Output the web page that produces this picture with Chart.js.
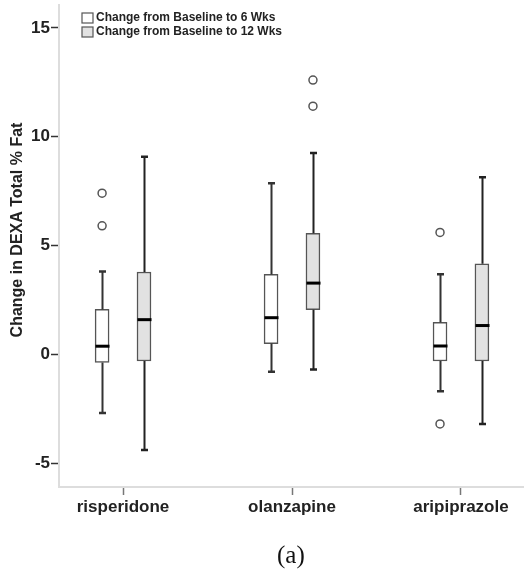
<!DOCTYPE html>
<html>
<head>
<meta charset="utf-8">
<script src="https://cdn.jsdelivr.net/npm/chart.js@4/dist/chart.umd.min.js"></script>
<style>
  body { margin: 0; background: #fff; }
  #wrap { position: relative; width: 524px; height: 573px; }
  #caption { position: absolute; left: 277px; top: 541px; font: 25px "Liberation Serif", serif; color: #111; }
</style>
</head>
<body>
<div id="wrap">
  <canvas id="myChart" width="524" height="573"></canvas>
  <div id="caption">(a)</div>
</div>
<script>
// Categories and tick labels
const categories = ['risperidone', 'olanzapine', 'aripiprazole'];
const yTicks = [-5, 0, 5, 10, 15];
const seriesLabels = ['Change from Baseline to 6 Wks', 'Change from Baseline to 12 Wks'];

// Box plot summaries, change from baseline to 6 weeks
const wk6Min = [-2.7, -0.8, -1.7];
const wk6Q1 = [-0.38, 0.49, -0.31];
const wk6Median = [0.37, 1.68, 0.38];
const wk6Q3 = [2.06, 3.67, 1.47];
const wk6Max = [3.8, 7.86, 3.68];
const wk6Outliers = [[7.4, 5.9], [], [5.6, -3.2]];

// Box plot summaries, change from baseline to 12 weeks
const wk12Min = [-4.4, -0.7, -3.2];
const wk12Q1 = [-0.31, 2.05, -0.31];
const wk12Median = [1.59, 3.27, 1.32];
const wk12Q3 = [3.78, 5.56, 4.16];
const wk12Max = [9.08, 9.25, 8.13];
const wk12Outliers = [[], [12.6, 11.4], []];

const GROUP_OFFSET = 0.124; // box shift from category centre, in category units
const BOX_WIDTH = 14;
const FILLS = ['#ffffff', '#e2e2e2'];

const groups = [
  { sign: -1, min: wk6Min, q1: wk6Q1, med: wk6Median, q3: wk6Q3, max: wk6Max, out: wk6Outliers, whisker: '#333' },
  { sign: 1, min: wk12Min, q1: wk12Q1, med: wk12Median, q3: wk12Q3, max: wk12Max, out: wk12Outliers, whisker: '#222' }
];

function boxData(g) {
  return categories.map((c, i) => ({ x: i + g.sign * GROUP_OFFSET, y: [g.q1[i], g.q3[i]] }));
}

function outlierData(g) {
  const pts = [];
  g.out.forEach((vals, i) => vals.forEach(v => pts.push({ x: i + g.sign * GROUP_OFFSET, y: v })));
  return pts;
}

// whiskers, medians, legend and y title
const boxExtras = {
  id: 'boxExtras',
  afterDatasetsDraw(chart) {
    const ctx = chart.ctx;
    const xs = chart.scales.x, ys = chart.scales.y;
    ctx.save();
    groups.forEach(g => {
      categories.forEach((c, i) => {
        const x = Math.round(xs.getPixelForValue(i + g.sign * GROUP_OFFSET)) + 0.5;
        ctx.strokeStyle = g.whisker;
        ctx.lineWidth = 2;
        ctx.beginPath();
        ctx.moveTo(x, ys.getPixelForValue(g.q3[i]));
        ctx.lineTo(x, ys.getPixelForValue(g.max[i]));
        ctx.moveTo(x, ys.getPixelForValue(g.q1[i]));
        ctx.lineTo(x, ys.getPixelForValue(g.min[i]));
        ctx.stroke();
        ctx.lineWidth = 2.5;
        ctx.beginPath();
        [g.max[i], g.min[i]].forEach(v => {
          const y = ys.getPixelForValue(v);
          ctx.moveTo(x - 3.5, y);
          ctx.lineTo(x + 3.5, y);
        });
        ctx.stroke();
        // median
        ctx.strokeStyle = '#000';
        ctx.lineWidth = 3;
        ctx.beginPath();
        const ym = ys.getPixelForValue(g.med[i]);
        ctx.moveTo(x - BOX_WIDTH / 2, ym);
        ctx.lineTo(x + BOX_WIDTH / 2, ym);
        ctx.stroke();
      });
    });
    ctx.restore();
  },
  afterDraw(chart) {
    const ctx = chart.ctx;
    ctx.save();
    // legend
    ctx.font = 'bold 12px "Liberation Sans", Arial, sans-serif';
    ctx.textBaseline = 'middle';
    seriesLabels.forEach((lab, k) => {
      const y = 13 + k * 14;
      ctx.fillStyle = FILLS[k];
      ctx.fillRect(82, y, 11, 10);
      ctx.strokeStyle = '#555';
      ctx.lineWidth = 1.2;
      ctx.strokeRect(82, y, 11, 10);
      ctx.fillStyle = '#222';
      ctx.fillText(lab, 96, y + 5);
    });
    // y axis title
    ctx.translate(18, 230);
    ctx.rotate(-Math.PI / 2);
    ctx.font = 'bold 16px "Liberation Sans", Arial, sans-serif';
    ctx.textAlign = 'center';
    ctx.fillStyle = '#222';
    ctx.fillText('Change in DEXA Total % Fat', 0, 0);
    ctx.restore();
  }
};

const tickFont = { family: '"Liberation Sans", Arial, sans-serif', size: 17, weight: 'bold' };

new Chart(document.getElementById('myChart').getContext('2d'), {
  type: 'bar',
  data: {
    datasets: [
      {
        label: seriesLabels[0],
        data: boxData(groups[0]),
        backgroundColor: FILLS[0],
        borderColor: '#555',
        borderWidth: 1.5,
        borderSkipped: false,
        barThickness: BOX_WIDTH,
        grouped: false
      },
      {
        label: seriesLabels[1],
        data: boxData(groups[1]),
        backgroundColor: FILLS[1],
        borderColor: '#555',
        borderWidth: 1.5,
        borderSkipped: false,
        barThickness: BOX_WIDTH,
        grouped: false
      },
      {
        type: 'scatter',
        label: 'outliers 6',
        data: outlierData(groups[0]),
        pointRadius: 4,
        pointBorderWidth: 1.5,
        pointBorderColor: '#555',
        pointBackgroundColor: '#fff'
      },
      {
        type: 'scatter',
        label: 'outliers 12',
        data: outlierData(groups[1]),
        pointRadius: 4,
        pointBorderWidth: 1.5,
        pointBorderColor: '#555',
        pointBackgroundColor: '#fff'
      }
    ]
  },
  options: {
    responsive: false,
    animation: false,
    layout: { autoPadding: false, padding: { top: 5, right: 0, bottom: 0, left: 0 } },
    plugins: {
      legend: { display: false },
      tooltip: { enabled: false }
    },
    scales: {
      x: {
        type: 'linear',
        offset: false,
        min: -0.379,
        max: 2.373,
        afterFit: s => { s.height = 86; s.paddingLeft = 0; s.paddingRight = 0; },
        afterBuildTicks: s => { s.ticks = categories.map((c, i) => ({ value: i })); },
        ticks: {
          callback: v => categories[v],
          font: tickFont,
          color: '#222',
          padding: 2,
          maxRotation: 0
        },
        grid: { offset: false, drawOnChartArea: false, drawTicks: true, tickLength: 8, color: '#777', tickWidth: 1.5 },
        border: { color: '#ddd', width: 2 }
      },
      y: {
        min: -6.1,
        max: 16.05,
        afterFit: s => { s.width = 59; s.paddingTop = 0; s.paddingBottom = 0; },
        afterBuildTicks: s => { s.ticks = yTicks.map(v => ({ value: v })); },
        ticks: { font: tickFont, color: '#222', padding: 1 },
        grid: { drawOnChartArea: false, drawTicks: true, tickLength: 8, color: '#333', tickWidth: 1.5 },
        border: { color: '#ddd', width: 2 }
      }
    }
  },
  plugins: [boxExtras]
});
</script>
</body>
</html>
